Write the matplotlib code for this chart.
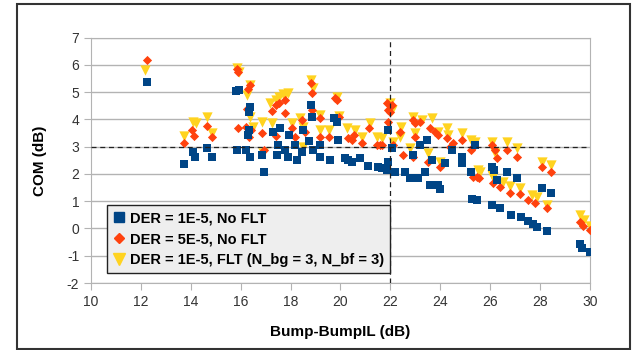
import matplotlib
matplotlib.use("Agg")
import matplotlib.pyplot as plt
from matplotlib.patches import Rectangle

plt.rcParams['font.family'] = ['Liberation Sans', 'DejaVu Sans']
plt.rcParams['axes.unicode_minus'] = False

# DER = 1E-5, No FLT
blue_x = [12.24, 13.73, 14.09, 14.17, 14.65, 14.85, 15.81, 15.93, 15.85, 16.21,
          16.37, 16.29, 16.33, 16.37, 16.33, 16.93, 16.85, 17.29, 17.57, 17.49,
          17.45, 17.78, 17.94, 17.90, 18.18, 18.26, 18.46, 18.50, 18.74, 18.82,
          18.86, 18.90, 19.18, 19.18, 19.58, 19.74, 19.86, 19.90, 20.18, 20.30,
          20.46, 20.78, 21.10, 21.50, 21.66, 21.90, 21.90, 22.06, 21.86, 22.18,
          22.58, 22.79, 23.11, 23.39, 22.91, 23.19, 23.47, 23.59, 23.91, 23.99,
          23.67, 24.19, 24.47, 24.87, 24.87, 25.23, 25.27, 25.47, 25.39, 26.07,
          26.39, 26.83, 27.23, 27.51, 27.72, 27.88, 28.28, 26.07, 26.15, 26.27,
          26.67, 27.07, 28.08, 28.44, 29.60, 29.68, 30.00]
blue_y = [5.37, 2.36, 2.80, 2.62, 2.95, 2.62, 5.04, 5.08, 2.88, 2.88,
          2.62, 3.43, 3.61, 4.46, 4.27, 2.07, 2.70, 3.54, 3.69, 3.06,
          2.70, 2.88, 3.43, 2.62, 3.06, 2.51, 2.80, 3.61, 3.21, 4.53,
          4.09, 2.88, 3.06, 2.62, 2.51, 4.05, 3.91, 3.25, 2.59, 2.51,
          2.44, 2.59, 2.29, 2.26, 2.22, 2.44, 3.61, 2.95, 2.14, 2.07,
          2.07, 1.85, 1.85, 2.07, 2.70, 3.06, 3.25, 1.59, 1.59, 1.45,
          2.51, 2.40, 2.88, 2.40, 2.62, 2.07, 1.07, 1.04, 3.06, 0.85,
          0.74, 0.49, 0.42, 0.27, 0.16, 0.05, -0.10, 2.25, 2.14, 1.78,
          2.07, 1.85, 1.48, 1.30, -0.57, -0.72, -0.87]

# DER = 5E-5, No FLT
orange_x = [12.24, 13.73, 14.05, 14.13, 14.65, 14.85, 15.85, 15.89, 15.89, 16.37,
            16.29, 16.25, 16.21, 16.41, 16.33, 16.85, 16.93, 17.25, 17.41, 17.53,
            17.78, 17.78, 17.41, 18.06, 18.18, 18.46, 18.58, 18.82, 18.86, 18.86,
            19.18, 19.18, 19.54, 19.78, 19.86, 19.94, 20.30, 20.46, 20.54, 20.86,
            21.14, 21.46, 21.66, 21.86, 21.90, 21.98, 22.06, 21.90, 21.58, 22.10,
            22.38, 22.91, 22.99, 23.19, 22.99, 23.59, 23.79, 23.91, 24.27, 24.51,
            24.39, 24.87, 25.23, 25.31, 26.07, 26.19, 26.27, 26.67, 27.07, 22.50,
            22.91, 23.51, 23.99, 25.47, 25.55, 25.31, 26.11, 26.39, 26.79, 27.19,
            27.51, 27.80, 28.28, 28.08, 28.44, 29.60, 29.72, 30.00]
orange_y = [6.18, 3.13, 3.61, 3.39, 3.76, 3.36, 5.85, 5.74, 3.69, 5.26,
            5.12, 4.38, 3.72, 3.61, 3.36, 3.50, 2.88, 4.31, 4.53, 4.60,
            4.71, 4.24, 3.39, 3.69, 3.36, 3.98, 3.54, 5.34, 4.97, 4.35,
            4.05, 3.36, 3.36, 4.79, 4.71, 4.09, 3.32, 3.25, 3.43, 3.14,
            3.69, 3.06, 3.06, 4.60, 4.35, 4.27, 4.53, 3.91, 3.06, 3.06,
            3.54, 3.98, 3.87, 3.91, 3.36, 3.69, 3.54, 3.43, 3.32, 3.14,
            2.99, 3.25, 2.88, 2.99, 3.06, 2.88, 2.59, 2.88, 2.62, 2.70,
            2.62, 2.44, 2.26, 1.89, 1.85, 1.89, 1.67, 1.52, 1.30, 1.26,
            1.04, 0.93, 0.74, 2.26, 2.07, 0.23, 0.08, -0.06]

# DER = 1E-5, FLT (N_bg = 3, N_bf = 3)
yellow_x = [12.16, 13.73, 14.09, 14.21, 14.65, 14.85, 15.85, 15.93, 16.25, 16.37,
            16.37, 16.49, 16.85, 17.25, 16.89, 17.17, 17.41, 17.53, 17.70, 17.90,
            17.78, 18.06, 18.38, 18.50, 18.50, 18.82, 18.90, 19.18, 19.18, 19.54,
            19.86, 19.94, 20.26, 20.58, 20.86, 21.18, 21.46, 21.66, 21.98, 22.06,
            22.10, 22.38, 22.42, 22.79, 22.91, 22.99, 23.27, 23.67, 23.51, 23.91,
            24.27, 24.31, 23.99, 24.87, 25.23, 25.39, 25.51, 25.59, 26.07, 26.19,
            26.07, 26.11, 26.51, 26.67, 26.79, 27.07, 27.19, 27.68, 27.88, 28.28,
            28.08, 28.44, 29.60, 29.76, 30.00]
yellow_y = [5.82, 3.39, 3.91, 3.87, 4.09, 3.50, 5.89, 5.74, 4.90, 5.26,
            4.09, 3.72, 3.91, 3.87, 2.77, 4.60, 4.71, 4.82, 4.93, 4.97,
            4.90, 3.87, 4.05, 3.72, 2.99, 5.45, 5.15, 4.16, 3.61, 3.61,
            4.82, 4.12, 3.69, 3.61, 3.36, 3.87, 3.36, 3.32, 4.60, 4.35,
            3.17, 3.36, 3.72, 2.95, 4.09, 3.50, 3.98, 4.05, 2.77, 3.54,
            3.69, 3.43, 2.44, 3.50, 3.25, 3.17, 2.14, 2.07, 3.17, 2.77,
            1.96, 1.89, 1.70, 3.17, 1.56, 2.95, 1.48, 1.22, 1.15, 0.85,
            2.44, 2.33, 0.50, 0.31, 0.09]

labels = ['DER = 1E-5, No FLT', 'DER = 5E-5, No FLT',
          'DER = 1E-5, FLT (N_bg = 3, N_bf = 3)']
com_limit = 3
il_marker = 22

fig = plt.figure(figsize=(6.32, 3.5), dpi=100)
ax = fig.add_axes([0.144, 0.1914, 0.7895, 0.7009])

ax.scatter(yellow_x, yellow_y, marker='v', s=55, color='#ffd320', linewidths=0, zorder=3)
ax.scatter(orange_x, orange_y, marker='D', s=22, color='#ff420e', linewidths=0, zorder=4)
ax.scatter(blue_x, blue_y, marker='s', s=34, color='#004586', linewidths=0, zorder=5)

ax.axhline(com_limit, color='#222222', lw=0.9, ls=(0, (4, 3)), zorder=6)
ax.axvline(il_marker, color='#222222', lw=0.9, ls=(0, (4, 3)), zorder=6)

ax.set_xlim(10, 30)
ax.set_ylim(-2, 7)
ax.set_xticks(range(10, 31, 2))
ax.set_yticks(range(-2, 8))
ax.grid(axis='y', color='#b3b3b3', lw=1)
ax.set_axisbelow(True)
for s in ax.spines.values():
    s.set_color('#b3b3b3')
ax.tick_params(colors='#b3b3b3', labelcolor='#333333', labelsize=10, length=5)

ax.set_xlabel('Bump-BumpIL (dB)', fontsize=11, fontweight='bold', labelpad=12)
ax.set_ylabel('COM (dB)', fontsize=11, fontweight='bold', labelpad=14)

handles = [
    plt.Line2D([], [], marker='s', ls='', color='#004586', markersize=7),
    plt.Line2D([], [], marker='D', ls='', color='#ff420e', markersize=5.5),
    plt.Line2D([], [], marker='v', ls='', color='#ffd320', markersize=8),
]
leg = ax.legend(handles, labels, loc='lower left', bbox_to_anchor=(0.032, 0.04),
                frameon=True, fancybox=False, framealpha=1, edgecolor='#222222',
                facecolor='#eeeeee', prop={'weight': 'bold', 'size': 10.5},
                handlelength=0.8, handletextpad=0.3, borderpad=0.45, labelspacing=0.45,
                borderaxespad=0)
leg.get_frame().set_linewidth(1.0)
leg.set_zorder(7)

fig.add_artist(Rectangle((0.027, 0.003), 0.97, 0.9856, transform=fig.transFigure,
                         fill=False, edgecolor='#333333', lw=1.5))

fig.savefig('out.png', dpi=100)
